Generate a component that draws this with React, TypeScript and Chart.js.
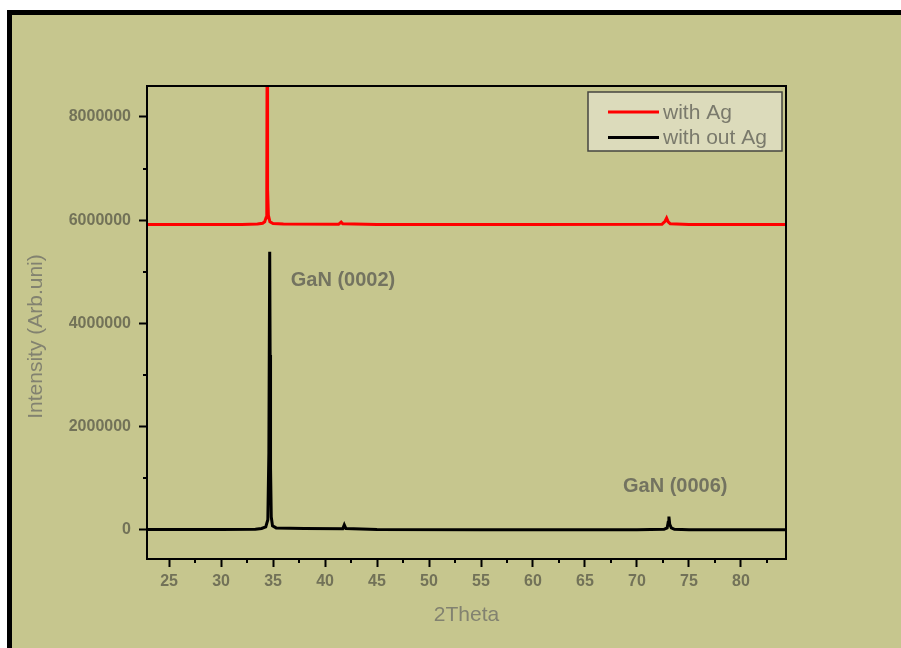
import React, { useEffect, useRef } from 'react';
import { Chart, registerables } from 'chart.js';

Chart.register(...registerables);

const seriesLabels = ['with Ag', 'with out Ag'];
const seriesColors = ['#ff0000', '#000000'];

const withAgX = [22.88, 28, 32, 33.5, 34.0, 34.2, 34.33, 34.4, 34.43, 34.46, 34.49, 34.55, 34.7, 35.0, 36, 41.3, 41.55, 41.7, 45, 60, 72.4, 72.7, 72.85, 73.0, 73.2, 75, 84.33];
const withAgY = [5915000, 5915000, 5918000, 5925000, 5940000, 5970000, 6050000, 6500000, 9200000, 7550000, 6600000, 6100000, 5970000, 5935000, 5925000, 5920000, 5965000, 5930000, 5915000, 5915000, 5920000, 5980000, 6040000, 5970000, 5930000, 5915000, 5915000];

const withoutAgX = [22.88, 30, 33.3, 33.9, 34.3, 34.5, 34.6, 34.68, 34.72, 34.76, 34.83, 34.95, 35.3, 38, 41.7, 41.85, 42.0, 45, 55, 70, 72.6, 72.9, 73.0, 73.07, 73.15, 73.3, 73.6, 75, 84.33];
const withoutAgY = [8000, 10000, 15000, 30000, 60000, 200000, 1500000, 5390000, 3390000, 1200000, 250000, 80000, 40000, 30000, 25000, 100000, 30000, 10000, 5000, 5000, 12000, 40000, 150000, 260000, 110000, 40000, 12000, 5000, 5000];

const xTicks = [25, 30, 35, 40, 45, 50, 55, 60, 65, 70, 75, 80];
const xMinorTicks = [27.5, 32.5, 37.5, 42.5, 47.5, 52.5, 57.5, 62.5, 67.5, 72.5, 77.5, 82.5];
const yTicks = [0, 2000000, 4000000, 6000000, 8000000];
const yMinorTicks = [1000000, 3000000, 5000000, 7000000];

const peakLabels = ['GaN (0002)', 'GaN (0006)'];
const peakLabelX = [36.7, 68.65];
const peakLabelY = [4840000, 850000];

const xTitle = '2Theta';
const yTitle = 'Intensity (Arb.uni)';

const FONT = "'Liberation Sans', Arial, sans-serif";
const BG = '#c6c68e';
const TICK_COLOR = '#727258';
const TITLE_COLOR = '#828270';

const decorPlugin = {
  id: 'decor',
  beforeDraw(chart: any) {
    const { ctx, width, height } = chart;
    ctx.save();
    ctx.fillStyle = '#ffffff';
    ctx.fillRect(0, 0, width, height);
    ctx.fillStyle = BG;
    ctx.fillRect(7, 10, width - 7, height - 10);
    ctx.fillStyle = '#000000';
    ctx.fillRect(7, 10, width - 7, 5);
    ctx.fillRect(7, 10, 5, height - 10);
    ctx.restore();
  },
  afterDatasetsDraw(chart: any) {
    const { ctx, chartArea, scales } = chart;
    const xs = scales.x;
    const ys = scales.y;
    ctx.save();
    // frame
    ctx.strokeStyle = '#000';
    ctx.lineWidth = 2;
    ctx.strokeRect(chartArea.left, chartArea.top, chartArea.right - chartArea.left, chartArea.bottom - chartArea.top);
    // minor ticks
    ctx.lineWidth = 2;
    ctx.beginPath();
    xMinorTicks.forEach((v) => {
      const px = Math.round(xs.getPixelForValue(v));
      ctx.moveTo(px, chartArea.bottom);
      ctx.lineTo(px, chartArea.bottom + 4);
    });
    yMinorTicks.forEach((v) => {
      const py = Math.round(ys.getPixelForValue(v));
      ctx.moveTo(chartArea.left, py);
      ctx.lineTo(chartArea.left - 4, py);
    });
    ctx.stroke();

    // peak annotations
    ctx.fillStyle = '#737360';
    ctx.font = `bold 20px ${FONT}`;
    ctx.textAlign = 'left';
    ctx.textBaseline = 'middle';
    peakLabels.forEach((t, i) => {
      ctx.fillText(t, xs.getPixelForValue(peakLabelX[i]), ys.getPixelForValue(peakLabelY[i]));
    });

    // legend
    const lx = chartArea.right - 198;
    const ly = chartArea.top + 6;
    const lw = 194;
    const lh = 59;
    ctx.fillStyle = '#dcdbbb';
    ctx.fillRect(lx, ly, lw, lh);
    ctx.strokeStyle = '#454540';
    ctx.lineWidth = 1.5;
    ctx.strokeRect(lx, ly, lw, lh);
    ctx.font = `21px ${FONT}`;
    ctx.textBaseline = 'middle';
    seriesLabels.forEach((t, i) => {
      const yy = ly + 20 + i * 25.5;
      ctx.strokeStyle = seriesColors[i];
      ctx.lineWidth = 3;
      ctx.beginPath();
      ctx.moveTo(lx + 20, yy);
      ctx.lineTo(lx + 71, yy);
      ctx.stroke();
      ctx.fillStyle = '#7a7a6c';
      ctx.fillText(t, lx + 75, yy + 1);
    });

    // y title
    ctx.save();
    ctx.translate(36, (chartArea.top + chartArea.bottom) / 2 + 14);
    ctx.rotate(-Math.PI / 2);
    ctx.textAlign = 'center';
    ctx.textBaseline = 'middle';
    ctx.fillStyle = TITLE_COLOR;
    ctx.font = `21px ${FONT}`;
    ctx.fillText(yTitle, 0, 0);
    ctx.restore();

    ctx.restore();
  },
};

export default function App() {
  const ref = useRef<HTMLCanvasElement | null>(null);
  useEffect(() => {
    if (!ref.current) return;
    const chart = new Chart(ref.current, {
      type: 'line',
      data: {
        datasets: [
          {
            label: seriesLabels[0],
            data: withAgX.map((x, i) => ({ x, y: withAgY[i] })),
            borderColor: seriesColors[0],
            borderWidth: 3,
            pointRadius: 0,
            tension: 0,
            fill: false,
          },
          {
            label: seriesLabels[1],
            data: withoutAgX.map((x, i) => ({ x, y: withoutAgY[i] })),
            borderColor: seriesColors[1],
            borderWidth: 3,
            pointRadius: 0,
            tension: 0,
            fill: false,
          },
        ],
      },
      options: {
        responsive: false,
        animation: false,
        devicePixelRatio: 1,
        layout: { padding: { left: 0, top: 86, right: 115, bottom: 0 } },
        plugins: { legend: { display: false }, tooltip: { enabled: false } },
        scales: {
          x: {
            type: 'linear',
            min: 22.88,
            max: 84.33,
            afterBuildTicks: (s: any) => {
              s.ticks = xTicks.map((v) => ({ value: v }));
            },
            afterFit: (s: any) => {
              s.height = 89;
            },
            ticks: {
              color: TICK_COLOR,
              font: { family: FONT, size: 16, weight: 'bold' },
              padding: 5,
              maxRotation: 0,
              autoSkip: false,
            },
            grid: { drawOnChartArea: false, drawTicks: true, tickLength: 8, tickWidth: 2, tickColor: '#000' },
            border: { display: false },
            title: {
              display: true,
              text: xTitle,
              color: TITLE_COLOR,
              font: { family: FONT, size: 21 },
              padding: { top: 0, bottom: 20 },
            },
          },
          y: {
            type: 'linear',
            min: -562000,
            max: 8600000,
            afterBuildTicks: (s: any) => {
              s.ticks = yTicks.map((v) => ({ value: v }));
            },
            afterFit: (s: any) => {
              s.width = 147;
            },
            ticks: {
              color: TICK_COLOR,
              font: { family: FONT, size: 16, weight: 'bold' },
              padding: 8,
              autoSkip: false,
              callback: (v: any) => String(v),
            },
            grid: { drawOnChartArea: false, drawTicks: true, tickLength: 8, tickWidth: 2, tickColor: '#000' },
            border: { display: false },
          },
        },
      },
      plugins: [decorPlugin],
    });
    return () => chart.destroy();
  }, []);
  return (
    <div style={{ position: 'fixed', left: 0, top: 0, width: 901, height: 648 }}>
      <canvas ref={ref} width={901} height={648} style={{ width: 901, height: 648, display: 'block' }} />
    </div>
  );
}
